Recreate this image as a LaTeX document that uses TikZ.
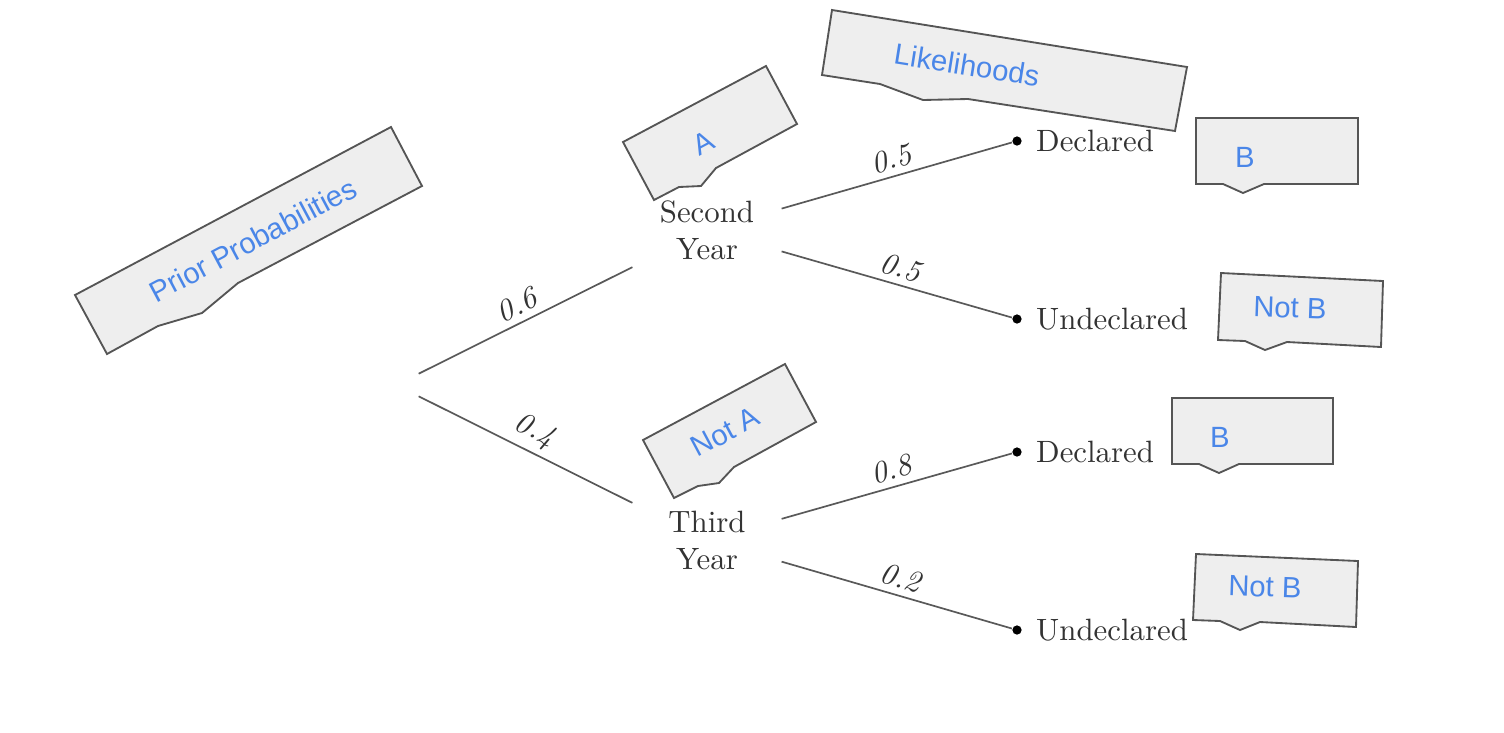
\documentclass[tikz,border=0pt]{standalone}
\usepackage{fontspec}
\newfontfamily\notefont{Liberation Sans}
\usetikzlibrary{calc}
\definecolor{noteblue}{HTML}{4A86E8}
\definecolor{notefill}{HTML}{EEEEEE}
\definecolor{noteline}{HTML}{555555}
\tikzset{
	note/.style={draw=noteline, fill=notefill, line width=0.6pt, line join=miter},
	notetext/.style={text=noteblue, font=\notefont\fontsize{9.5}{11}\selectfont, inner sep=0pt},
	branch/.style={draw=black!65, line width=0.55pt},
	year/.style={align=center, text=black!80, minimum width=48pt, minimum height=26pt, inner sep=0pt},
	leaf/.style={circle, fill=black, inner sep=0pt, minimum size=3pt},
	prob/.style={midway, sloped, above, text=black!80, inner sep=2pt},
}

\begin{document}
\begin{tikzpicture}[x=0.0114cm, y=-0.0114cm]
			%%%%% START %%%%%
			\useasboundingbox (0, 0) rectangle (1504, 732);
			
			\node[minimum size=14.3pt, inner sep=0pt] (root) at (396, 385) {};
			\node[year] (second) at (707, 230) {Second\\Year};
			\node[year] (third) at (707, 540) {Third\\Year};
			
			\node[leaf, label={[text=black!80, label distance=1pt]right:Declared}] (dec-a) at (1017, 141) {};
			\node[leaf, label={[text=black!80, label distance=1pt]right:Undeclared}] (und-a) at (1017, 319) {};
			\node[leaf, label={[text=black!80, label distance=1pt]right:Declared}] (dec-b) at (1017, 452) {};
			\node[leaf, label={[text=black!80, label distance=1pt]right:Undeclared}] (und-b) at (1017, 630) {};
			
			\draw[branch] (root) -- (second) node[prob] {\textit{0.6}};
			\draw[branch] (root) -- (third) node[prob] {\textit{0.4}};
			\draw[branch] (second) -- (dec-a) node[prob] {\textit{0.5}};
			\draw[branch] (second) -- (und-a) node[prob] {\textit{0.5}};
			\draw[branch] (third) -- (dec-b) node[prob] {\textit{0.8}};
			\draw[branch] (third) -- (und-b) node[prob] {\textit{0.2}};
			
			% callouts
			\draw[note] (75, 295) -- (391, 127) -- (422, 186) -- (238, 283) -- (202, 313) -- (158, 326) -- (107, 354) -- cycle;
			\node[notetext, rotate=28] (prior) at (253, 240) {Prior Probabilities};
			
			\draw[note] (623, 142) -- (766, 66) -- (797, 124) -- (716, 168) -- (701, 186) -- (679, 187) -- (654, 200) -- cycle;
			\node[notetext, rotate=28] (event-a) at (703, 143) {A};
			
			\draw[note] (643, 440) -- (785, 364) -- (816, 422) -- (734, 467) -- (719, 483) -- (698, 486) -- (674, 498) -- cycle;
			\node[notetext, rotate=28] (event-nota) at (725, 432) {Not A};
			
			\draw[note] (832, 10) -- (1187, 67) -- (1175, 131) -- (968, 99) -- (923, 100) -- (880, 84) -- (822, 75) -- cycle;
			\node[notetext, rotate=-9] (likely) at (967, 65) {Likelihoods};
			
			\draw[note] (1196, 118) -- (1358, 118) -- (1358, 184) -- (1264, 184) -- (1243, 193) -- (1223, 184) -- (1196, 184) -- cycle;
			\node[notetext] (event-b1) at (1245, 157) {B};
			
			\draw[note] (1221, 273) -- (1383, 281) -- (1381, 347) -- (1287, 342) -- (1265, 350) -- (1245, 341) -- (1218, 340) -- cycle;
			\node[notetext, rotate=-2] (event-notb1) at (1290, 308) {Not B};
			
			\draw[note] (1172, 398) -- (1333, 398) -- (1333, 464) -- (1239, 464) -- (1219, 473) -- (1199, 464) -- (1172, 464) -- cycle;
			\node[notetext] (event-b2) at (1220, 437) {B};
			
			\draw[note] (1196, 554) -- (1358, 561) -- (1356, 627) -- (1260, 622) -- (1240, 630) -- (1220, 621) -- (1193, 620) -- cycle;
			\node[notetext, rotate=-2] (event-notb2) at (1265, 587) {Not B};
			%%%%% END %%%%%
		\end{tikzpicture}
\end{document}
